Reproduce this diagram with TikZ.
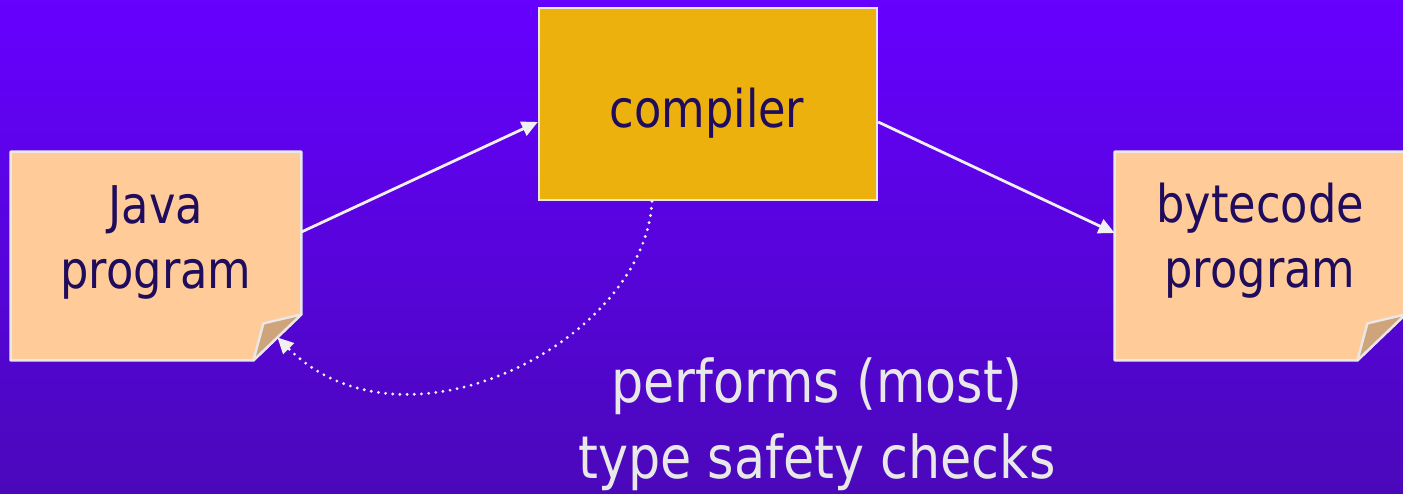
\documentclass[tikz,border=0pt]{standalone}
\usepackage{fontspec}
\setmainfont{DejaVu Sans}[FakeStretch=0.86]
\usetikzlibrary{arrows.meta,calc}

\definecolor{bgtop}{RGB}{102,0,255}
\definecolor{bgbot}{RGB}{74,8,186}
\definecolor{notefill}{RGB}{255,204,153}
\definecolor{flapfill}{RGB}{208,164,122}
\definecolor{compfill}{RGB}{237,177,14}
\definecolor{inkdark}{RGB}{32,12,92}
\definecolor{edgegrey}{RGB}{232,232,232}
\definecolor{linewhite}{RGB}{240,240,240}

\tikzset{
  notebox/.style={minimum width=145pt, minimum height=104pt, inner sep=0pt},
  notepaper/.style={fill=notefill, draw=edgegrey, line width=1.2pt, line join=round},
  noteflap/.style={fill=flapfill, draw=edgegrey, line width=1.2pt, line join=round},
  compbox/.style={fill=compfill, draw=edgegrey, line width=1.2pt,
    minimum width=169pt, minimum height=96pt, inner sep=0pt},
  labeltext/.style={text=inkdark, font=\fontsize{26}{32.5}\selectfont,
    align=center, inner sep=0pt},
  checktext/.style={text=edgegrey, font=\fontsize{29.5}{38}\selectfont,
    align=center, inner sep=0pt},
  flow/.style={draw=linewhite, line width=1.4pt,
    -{Triangle[length=8pt,width=7.5pt]}},
  feedback/.style={draw=linewhite, line width=1.6pt, line cap=round,
    dash pattern=on 0pt off 3.6pt, -{Triangle[length=8pt,width=7.5pt]}}
}

\begin{document}
\begin{tikzpicture}[x=0.5pt,y=-0.5pt]
% canvas and background gradient
\clip (0,0) rectangle (1403,493);
\shade[top color=bgtop, bottom color=bgbot] (0,0) rectangle (1403,493);

% shapes
\node[notebox] (java) at (156,256) {};
\node[notebox] (bytecode) at (1260,256) {};
\node[compbox] (comp) at (708,104) {};

% dog-eared notes
\foreach \n in {java,bytecode} {
  \path[notepaper] (\n.north west) -- (\n.north east)
    -- ([yshift=23pt]\n.south east) -- ([xshift=-24pt]\n.south east)
    -- (\n.south west) -- cycle;
  \path[noteflap] ([xshift=-24pt]\n.south east)
    -- ([xshift=-19pt,yshift=18.5pt]\n.south east)
    -- ([yshift=23pt]\n.south east) -- cycle;
}

% labels
\node[labeltext, anchor=north] (javalabel) at (156,185) {Java\\program};
\node[labeltext, anchor=north] (bytecodelabel) at (1260,183) {bytecode\\program};
\node[labeltext, anchor=base] (complabel) at (707,127) {compiler};
\node[checktext, anchor=north] (checks) at (817,357) {performs (most)\\type safety checks};

% connectors
\draw[flow] ([yshift=12pt]java.east) -- ([yshift=-9pt]comp.west);
\draw[flow] ([yshift=-9pt]comp.east) -- ([yshift=11.5pt]bytecode.west);

\coordinate (javafold) at ($([xshift=-24pt]java.south east)!0.5!([yshift=23pt]java.south east)$);
\draw[feedback] ([xshift=-28pt]comp.south) .. controls (645,340) and (405,465) .. (javafold);
\end{tikzpicture}
\end{document}
